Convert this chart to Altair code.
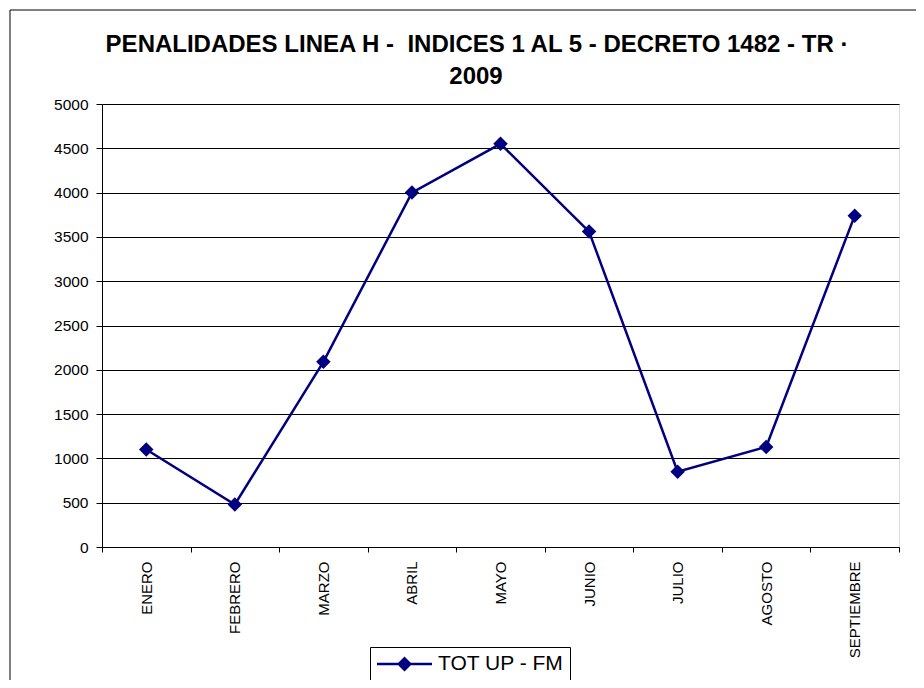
import altair as alt
import pandas as pd

months = ["ENERO", "FEBRERO", "MARZO", "ABRIL", "MAYO", "JUNIO", "JULIO", "AGOSTO", "SEPTIEMBRE"]
values = [1100, 480, 2090, 4000, 4550, 3560, 850, 1130, 3740]
series_name = "TOT UP - FM"
title_lines = ["PENALIDADES LINEA H - \u00a0INDICES 1 AL 5 - DECRETO 1482 - TR ·", "2009"]
y_ticks = list(range(0, 5001, 500))

df = pd.DataFrame({"mes": months, "valor": values, "serie": [series_name] * len(months)})

FONT = "Liberation Sans"
NAVY = "#000080"

x_enc = alt.X("mes:N", sort=months, title=None,
              axis=alt.Axis(labelAngle=-90, labelFontSize=15, labelFont=FONT, labelColor="black",
                            labelPadding=9, tickSize=5, tickColor="black", domainColor="black",
                            tickBand="extent", grid=False))
y_enc = alt.Y("valor:Q", title=None,
              scale=alt.Scale(domain=[0, 5000], nice=False),
              axis=alt.Axis(values=y_ticks, format="d", labelFontSize=15.5, labelFont=FONT,
                            labelColor="black", labelPadding=8, tickSize=6, tickColor="black",
                            domainColor="black", grid=True, gridColor="black", gridWidth=1))

line = alt.Chart(df).mark_line(strokeWidth=2.5, color=NAVY).encode(x=x_enc, y=y_enc)

# legend symbol: line with a diamond in the middle, drawn as one filled path
legend_path = ("M-1,-0.125L1.125,-0.125L1.75,-0.75L2.375,-0.125L4.5,-0.125L4.5,0.125"
               "L2.375,0.125L1.75,0.75L1.125,0.125L-1,0.125Z")
points = alt.Chart(df).mark_point(shape="diamond", size=210, filled=True, opacity=1).encode(
    x=x_enc, y=y_enc,
    color=alt.Color("serie:N", scale=alt.Scale(range=[NAVY]),
                    legend=alt.Legend(title=None, orient="none", legendX=268, legendY=543,
                                      symbolType=legend_path, symbolSize=400,
                                      symbolFillColor=NAVY, symbolOpacity=1,
                                      labelFontSize=21, labelFont=FONT, labelColor="black",
                                      strokeColor="black", padding=6, labelOffset=40,
                                      fillColor="white")))

border = alt.Chart(alt.Data(values=[{}])).mark_rect(filled=False, stroke="black", strokeWidth=1).encode(
    x=alt.value(-92), x2=alt.value(840), y=alt.value(-94), y2=alt.value(600))

title_data = alt.Data(values=[{}])
title1 = alt.Chart(title_data).mark_text(font=FONT, fontSize=24, fontWeight="bold", color="black",
                                         align="center", baseline="alphabetic").encode(
    x=alt.value(375), y=alt.value(-52), text=alt.value(title_lines[0]))
title2 = alt.Chart(title_data).mark_text(font=FONT, fontSize=24, fontWeight="bold", color="black",
                                         align="center", baseline="alphabetic").encode(
    x=alt.value(374), y=alt.value(-20), text=alt.value(title_lines[1]))

chart = alt.layer(border, title1, title2, line, points).properties(
    width=797, height=443,
    autosize=alt.AutoSizeParams(type="none"),
    padding={"left": 94, "top": 96, "right": 17, "bottom": 133},
).configure_view(stroke=None).configure(background="white")

chart.save("out.html", embed_options={"renderer": "svg", "actions": False})
